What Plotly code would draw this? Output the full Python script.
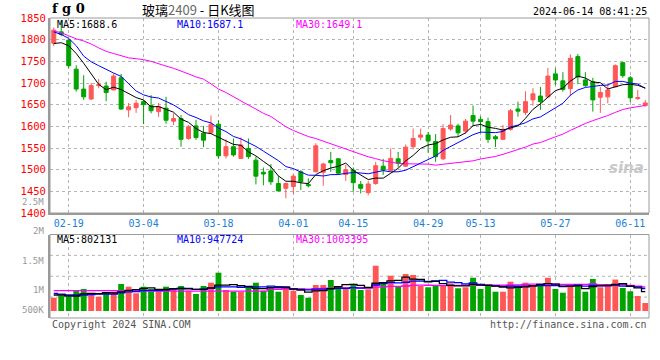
import plotly.graph_objects as go
import pandas as pd

dates = ["02-07", "02-08", "02-19", "02-20", "02-21", "02-22", "02-23", "02-26", "02-27", "02-28",
         "02-29", "03-01", "03-04", "03-05", "03-06", "03-07", "03-08", "03-11", "03-12", "03-13",
         "03-14", "03-15", "03-18", "03-19", "03-20", "03-21", "03-22", "03-25", "03-26", "03-27",
         "03-28", "03-29", "04-01", "04-02", "04-03", "04-08", "04-09", "04-10", "04-11", "04-12",
         "04-15", "04-16", "04-17", "04-18", "04-19", "04-22", "04-23", "04-24", "04-25", "04-26",
         "04-29", "04-30", "05-06", "05-07", "05-08", "05-09", "05-10", "05-13", "05-14", "05-15",
         "05-16", "05-17", "05-20", "05-21", "05-22", "05-23", "05-24", "05-27", "05-28", "05-29",
         "05-30", "05-31", "06-03", "06-04", "06-05", "06-06", "06-07", "06-11", "06-12", "06-13"]

opens = [1792, 1818, 1799, 1732, 1686, 1663, 1694, 1693, 1684, 1712,
         1638, 1643, 1657, 1648, 1634, 1642, 1612, 1618, 1572, 1601,
         1584, 1585, 1605, 1532, 1553, 1526, 1549, 1522, 1494, 1497,
         1468, 1457, 1461, 1495, 1466, 1495, 1494, 1521, 1525, 1489,
         1499, 1466, 1447, 1468, 1508, 1498, 1525, 1508, 1553, 1575,
         1580, 1565, 1525, 1594, 1601, 1589, 1625, 1616, 1611, 1576,
         1570, 1593, 1640, 1632, 1661, 1670, 1668, 1721, 1705, 1687,
         1761, 1707, 1703, 1667, 1668, 1691, 1747, 1712, 1664, 1648]
highs = [1828, 1845, 1801, 1741, 1718, 1700, 1709, 1703, 1722, 1721,
         1654, 1661, 1661, 1672, 1654, 1668, 1630, 1626, 1603, 1615,
         1601, 1625, 1614, 1570, 1572, 1574, 1572, 1530, 1505, 1513,
         1485, 1470, 1491, 1499, 1480, 1561, 1516, 1541, 1527, 1511,
         1505, 1474, 1474, 1518, 1525, 1549, 1541, 1558, 1595, 1595,
         1587, 1582, 1605, 1626, 1606, 1617, 1648, 1623, 1620, 1580,
         1603, 1640, 1657, 1681, 1688, 1691, 1735, 1734, 1725, 1766,
         1767, 1725, 1712, 1691, 1699, 1743, 1749, 1716, 1684, 1661]
lows = [1785, 1808, 1734, 1680, 1661, 1661, 1688, 1658, 1683, 1638,
        1621, 1631, 1605, 1630, 1622, 1606, 1603, 1553, 1569, 1569,
        1552, 1584, 1526, 1526, 1530, 1525, 1525, 1466, 1464, 1465,
        1450, 1434, 1444, 1453, 1459, 1494, 1463, 1495, 1488, 1474,
        1449, 1445, 1441, 1465, 1488, 1496, 1505, 1506, 1547, 1568,
        1539, 1518, 1522, 1590, 1576, 1583, 1600, 1584, 1562, 1552,
        1568, 1590, 1622, 1626, 1648, 1638, 1667, 1695, 1680, 1670,
        1697, 1691, 1634, 1631, 1653, 1691, 1712, 1656, 1661, 1645]
closes = [1822, 1812, 1740, 1686, 1668, 1694, 1696, 1678, 1716, 1640,
          1645, 1653, 1650, 1636, 1645, 1614, 1618, 1570, 1599, 1574,
          1568, 1605, 1532, 1553, 1534, 1557, 1530, 1485, 1490, 1472,
          1451, 1468, 1485, 1472, 1463, 1555, 1513, 1516, 1492, 1500,
          1470, 1457, 1467, 1509, 1499, 1526, 1515, 1552, 1572, 1580,
          1566, 1530, 1595, 1603, 1585, 1612, 1612, 1611, 1570, 1571,
          1593, 1636, 1635, 1657, 1675, 1657, 1716, 1707, 1685, 1757,
          1714, 1694, 1661, 1678, 1684, 1740, 1717, 1666, 1666, 1654]
volumes = [549e3, 632e3, 591e3, 838e3, 909e3, 661e3, 591e3, 772e3, 797e3, 1115e3,
           1004e3, 731e3, 1004e3, 909e3, 797e3, 1004e3, 909e3, 1033e3, 838e3, 702e3,
           1033e3, 1169e3, 1582e3, 867e3, 797e3, 797e3, 1033e3, 1169e3, 838e3, 1004e3,
           797e3, 1033e3, 838e3, 661e3, 549e3, 1074e3, 1074e3, 1280e3, 1033e3, 979e3,
           1115e3, 867e3, 896e3, 1871e3, 1115e3, 1458e3, 1004e3, 1528e3, 1487e3, 1033e3,
           979e3, 1074e3, 1074e3, 1144e3, 938e3, 979e3, 1375e3, 909e3, 1074e3, 797e3,
           797e3, 1210e3, 1004e3, 1169e3, 1033e3, 1074e3, 1375e3, 909e3, 756e3, 1033e3,
           1115e3, 797e3, 1322e3, 979e3, 1074e3, 1300e3, 950e3, 815e3, 620e3, 330e3]

ma5_head = [1791, 1793, 1786, 1768]
ma10_head = [1818, 1812, 1803, 1786, 1762, 1749, 1740, 1731, 1723]
ma30_head = [1820, 1816, 1809, 1802, 1797, 1790, 1781, 1773, 1768, 1763,
             1758, 1756, 1754, 1750, 1744, 1739, 1734, 1728, 1721, 1714,
             1709, 1698, 1686, 1678, 1668, 1659, 1649, 1640, 1630]
vma5_head = [661e3, 661e3, 620e3, 620e3]
vma10_head = [731e3, 700e3, 661e3, 661e3, 661e3, 680e3, 700e3, 702e3, 702e3]
vma30_head = [838e3] * 13 + [820e3] * 16

date_ticks = ["02-19", "03-04", "03-18", "04-01", "04-15", "04-29", "05-13", "05-27", "06-11"]
price_ticks = [1400, 1450, 1500, 1550, 1600, 1650, 1700, 1750, 1800, 1850]
vol_tick_labels = ["2.5M", "2M", "1.5M", "1M", "500K"]


def moving(values, n, head):
    s = pd.Series(values, dtype=float).rolling(n).mean().tolist()
    return list(head) + s[len(head):]


ma5 = moving(closes, 5, ma5_head)
ma10 = moving(closes, 10, ma10_head)
ma30 = moving(closes, 30, ma30_head)
vma5 = moving(volumes, 5, vma5_head)
vma10 = moving(volumes, 10, vma10_head)
vma30 = moving(volumes, 30, vma30_head)

RED = "#ff5757"
GREEN = "#00a300"
MONO = "DejaVu Sans Mono, Liberation Mono, monospace"
GRID = "#b4b4b4"
BORDER = "#9a9a9a"

bar_colors = [RED if c >= o else GREEN for o, c in zip(opens, closes)]

fig = go.Figure()
fig.add_trace(go.Candlestick(
    x=dates, open=opens, high=highs, low=lows, close=closes,
    increasing=dict(line=dict(color=RED, width=1), fillcolor=RED),
    decreasing=dict(line=dict(color=GREEN, width=1), fillcolor=GREEN),
    whiskerwidth=0, xaxis="x", yaxis="y", hoverinfo="skip", showlegend=False))
for vals, col in [(ma30, "#ff00ff"), (ma10, "#0000ff"), (ma5, "#000000")]:
    fig.add_trace(go.Scatter(x=dates, y=vals, mode="lines", line=dict(color=col, width=1),
                             xaxis="x", yaxis="y", hoverinfo="skip", showlegend=False))

fig.add_trace(go.Bar(x=dates, y=volumes, marker=dict(color=bar_colors, line=dict(width=0)),
                     width=0.78, xaxis="x2", yaxis="y2", hoverinfo="skip", showlegend=False))
for vals, col in [(vma30, "#ff00ff"), (vma10, "#0000ff"), (vma5, "#000000")]:
    fig.add_trace(go.Scatter(x=dates, y=vals, mode="lines", line=dict(color=col, width=1.3, shape="hvh"),
                             xaxis="x2", yaxis="y2", hoverinfo="skip", showlegend=False))

PRICE_DOM = [0.35, 1.0]
VOL_DOM = [0.0, 0.2783]

fig.update_layout(
    width=660, height=360,
    margin=dict(l=50, r=11, t=18, b=42, autoexpand=False),
    paper_bgcolor="white", plot_bgcolor="white",
    font=dict(family=MONO, size=10, color="#000"),
    showlegend=False,
    boxgap=0.24,
    xaxis=dict(type="category", categoryorder="array", categoryarray=dates,
               range=[-0.5, len(dates) - 0.5], domain=[0, 1], anchor="y", automargin=False,
               rangeslider=dict(visible=False),
               tickmode="array", tickvals=date_ticks, ticktext=date_ticks,
               tickfont=dict(family=MONO, size=10, color="#1a7fd6"), ticks="",
               showgrid=True, gridcolor=GRID, griddash="dot", gridwidth=1,
               showline=True, linecolor=BORDER, linewidth=2, zeroline=False),
    yaxis=dict(domain=PRICE_DOM, range=[1400, 1850], anchor="x", automargin=False,
               tickmode="array", tickvals=price_ticks, ticktext=[str(v) for v in price_ticks],
               tickfont=dict(family=MONO, size=10.5, color="#ff0000"), ticks="",
               showgrid=True, gridcolor=GRID, griddash="dot", gridwidth=1,
               showline=True, linecolor=BORDER, linewidth=2, zeroline=False),
    xaxis2=dict(type="category", categoryorder="array", categoryarray=dates,
                range=[-0.5, len(dates) - 0.5], domain=[0, 1], anchor="y2", matches="x",
                automargin=False,
                tickmode="array", tickvals=date_ticks, showticklabels=False, ticks="",
                showgrid=True, gridcolor=GRID, griddash="dot", gridwidth=1,
                showline=False, zeroline=False),
    yaxis2=dict(domain=VOL_DOM, range=[-289e3, 3159e3], anchor="x2", automargin=False,
                showticklabels=False, ticks="", showgrid=False,
                showline=True, linecolor=BORDER, linewidth=2, zeroline=False),
)

shapes = []
for yr in ["y", "y2"]:
    shapes.append(dict(type="rect", xref="x domain", yref=yr + " domain", x0=0, x1=1, y0=0, y1=1,
                       line=dict(color=BORDER, width=1), layer="above"))
for f in [0.25, 0.5, 0.75]:
    shapes.append(dict(type="line", xref="x2 domain", yref="y2 domain", x0=0, x1=1, y0=f, y1=f,
                       line=dict(color=GRID, width=1, dash="dot"), layer="below"))
fig.update_layout(shapes=shapes)

ann = []
# title row
ann.append(dict(text="<b>f g 0</b>", x=0.0, y=1.03, xref="paper", yref="paper",
                xanchor="left", yanchor="middle", showarrow=False,
                font=dict(family="DejaVu Serif, serif", size=13, color="#000")))
ann.append(dict(text="玻璃<span style='color:#666'>2409</span> - 日K线图", x=0.15, y=1.028,
                xref="paper", yref="paper", xanchor="left", yanchor="middle", showarrow=False,
                font=dict(family="Noto Sans CJK SC", size=13, color="#000")))
ann.append(dict(text="2024-06-14 08:41:25", x=1.0, y=1.02, xref="paper", yref="paper",
                xanchor="right", yanchor="middle", showarrow=False,
                font=dict(family=MONO, size=10, color="#000")))
# MA legends
price_leg = [("MA5:1688.6", "#000000", 0.008), ("MA10:1687.1", "#0000ff", 0.208), ("MA30:1649.1", "#ff00ff", 0.408)]
vol_leg = [("MA5:802131", "#000000", 0.008), ("MA10:947724", "#0000ff", 0.208), ("MA30:1003395", "#ff00ff", 0.408)]
for t, c, x in price_leg:
    ann.append(dict(text=t, x=x, y=0.98, xref="paper", yref="paper", xanchor="left", yanchor="middle",
                    showarrow=False, font=dict(family=MONO, size=10, color=c)))
for t, c, x in vol_leg:
    ann.append(dict(text=t, x=x, y=0.263, xref="paper", yref="paper", xanchor="left", yanchor="middle",
                    showarrow=False, font=dict(family=MONO, size=10, color=c)))
# volume axis labels
for t, yp in zip(vol_tick_labels, [0.386, 0.29, 0.19, 0.093, 0.027]):
    ann.append(dict(text=t, x=-0.006, y=yp, xref="paper", yref="paper", xanchor="right", yanchor="middle",
                    showarrow=False, font=dict(family=MONO, size=9, color="#999999")))
# footer
ann.append(dict(text="Copyright 2024 SINA.COM", x=0.0, y=-0.02, xref="paper", yref="paper",
                xanchor="left", yanchor="middle", showarrow=False,
                font=dict(family=MONO, size=10, color="#555555")))
ann.append(dict(text="http://finance.sina.com.cn", x=1.0, y=-0.02, xref="paper", yref="paper",
                xanchor="right", yanchor="middle", showarrow=False,
                font=dict(family=MONO, size=10, color="#555555")))
# watermark
ann.append(dict(text="<b><i>sina</i></b>", x=0.995, y=0.5, xref="paper", yref="paper",
                xanchor="right", yanchor="middle", showarrow=False,
                font=dict(family="DejaVu Sans, sans-serif", size=15, color="#c8c8c8")))
fig.update_layout(annotations=ann)

fig.write_html("out.html", config={"displayModeBar": False},
               post_script="document.body.style.margin='0';")
